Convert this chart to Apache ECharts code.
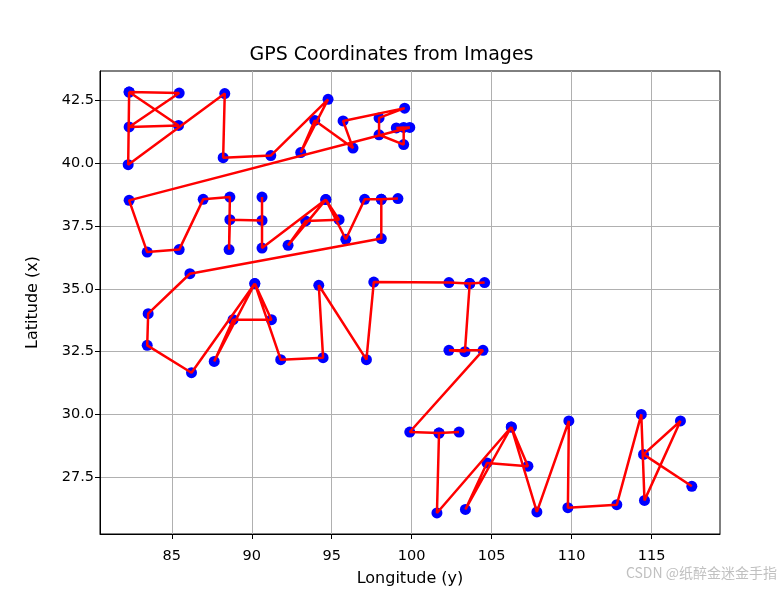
<!DOCTYPE html>
<html>
<head>
<meta charset="utf-8">
<title>GPS Coordinates from Images</title>
<script src="https://cdn.jsdelivr.net/npm/echarts@6/dist/echarts.min.js"></script>
<style>
  html, body { margin: 0; padding: 0; background: #fff; }
  #chart { width: 783px; height: 589px; }
</style>
</head>
<body>
<div id="chart"></div>
<script>
// longitude (x axis) and latitude (y axis) of each image, in path order
const longitudes = [
  82.33, 85.46, 82.33, 85.42, 82.33, 82.27, 88.31, 88.21, 91.19, 94.77, 93.06,
  93.94, 96.33, 95.71, 99.56, 97.96, 97.96, 99.5, 99.5, 99.04, 99.88,
  82.33, 83.46, 85.46, 86.96, 88.63, 88.58, 88.63, 90.64, 90.64, 90.64, 94.63,
  92.27, 93.37, 95.46, 94.63, 95.88, 97.06, 98.1, 99.14, 98.1, 98.1,
  86.13, 83.52, 83.46, 86.23, 90.19, 87.65, 88.83, 91.23, 90.19, 91.81, 94.46,
  94.19, 97.17, 97.63,
  102.33, 103.63, 104.56, 103.63, 103.33, 102.33, 104.46,
  99.88, 101.71, 102.96, 101.71, 101.58, 106.23, 103.36, 104.71, 107.27, 106.23,
  107.83, 109.83, 109.77, 112.83, 114.36, 114.56, 116.81, 114.5, 117.52
];
const latitudes = [
  42.83, 42.79, 41.44, 41.5, 42.83, 39.94, 42.77, 40.22, 40.3, 42.54, 40.42,
  41.7, 40.6, 41.68, 42.19, 41.8, 41.13, 40.74, 41.42, 41.4, 41.42,
  38.52, 36.46, 36.56, 38.56, 38.65, 36.56, 37.75, 37.72, 38.65, 36.62, 38.55,
  36.73, 37.7, 37.75, 38.55, 36.97, 38.56, 38.56, 38.59, 38.56, 37.0,
  35.6, 34.01, 32.75, 31.66, 35.21, 32.11, 33.77, 33.77, 35.21, 32.18, 32.26,
  35.14, 32.18, 35.27,
  35.25, 35.21, 35.25, 35.21, 32.5, 32.55, 32.55,
  29.3, 29.26, 29.3, 29.26, 26.08, 29.5, 26.22, 28.07, 27.94, 29.5,
  26.12, 29.74, 26.29, 26.41, 30.0, 26.58, 29.74, 28.41, 27.14
];
const xTicks = [85, 90, 95, 100, 105, 110, 115];
const yTicks = [27.5, 30, 32.5, 35, 37.5, 40, 42.5];

const FONT = "DejaVu Sans";
const points = longitudes.map((lon, i) => [lon, latitudes[i]]);

// matplotlib style autoscale: 5% margin on each side
const padRange = (vals) => {
  const lo = Math.min(...vals);
  const hi = Math.max(...vals);
  const m = (hi - lo) * 0.05;
  return [lo - m, hi + m];
};
const [xMin, xMax] = padRange(longitudes);
const [yMin, yMax] = padRange(latitudes);

const axisCommon = {
  type: "value",
  nameLocation: "middle",
  nameTextStyle: { fontFamily: FONT, fontSize: 16, color: "#000" },
  axisLine: { show: true, lineStyle: { color: "#000", width: 1 } },
  axisTick: { show: true, inside: false, length: 5, lineStyle: { color: "#000", width: 1 } },
  splitLine: { show: true, lineStyle: { color: "#b0b0b0", width: 1 } },
};

const chart = echarts.init(document.getElementById("chart"), null, { renderer: "canvas" });

chart.setOption({
  animation: false,
  backgroundColor: "#fff",
  title: {
    text: "GPS Coordinates from Images",
    left: "center",
    top: 46,
    padding: 0,
    textStyle: { fontFamily: FONT, fontSize: 19, fontWeight: "normal", color: "#000" },
  },
  grid: {
    left: 100, right: 63, top: 71, bottom: 55,
    outerBoundsMode: "none",
    containLabel: false,
    show: true, borderColor: "#000", borderWidth: 1, backgroundColor: "transparent",
  },
  xAxis: {
    ...axisCommon,
    name: "Longitude (y)",
    nameGap: 37,
    min: xMin,
    max: xMax,
    axisTick: { ...axisCommon.axisTick, customValues: xTicks },
    axisLabel: {
      customValues: xTicks,
      fontFamily: FONT, fontSize: 14.5, color: "#000", margin: 15,
    },
  },
  yAxis: {
    ...axisCommon,
    name: "Latitude (x)",
    nameGap: 59,
    min: yMin,
    max: yMax,
    axisTick: { ...axisCommon.axisTick, customValues: yTicks },
    axisLabel: {
      customValues: yTicks,
      formatter: (v) => v.toFixed(1),
      fontFamily: FONT, fontSize: 14.5, color: "#000", margin: 6,
    },
  },
  series: [
    {
      type: "scatter",
      data: points,
      symbolSize: 11,
      itemStyle: { color: "#0000ff", opacity: 1 },
      z: 2,
    },
    {
      type: "line",
      data: points,
      showSymbol: false,
      symbol: "none",
      lineStyle: { color: "#ff0000", width: 2.5 },
      z: 3,
    },
  ],
  graphic: [
    {
      type: "text",
      right: 6,
      top: 566,
      style: {
        text: "CSDN @纸醉金迷金手指",
        fontFamily: "Noto Sans CJK SC",
        fontSize: 14,
        fill: "rgba(140,140,140,0.55)",
      },
    },
  ],
});
</script>
</body>
</html>
